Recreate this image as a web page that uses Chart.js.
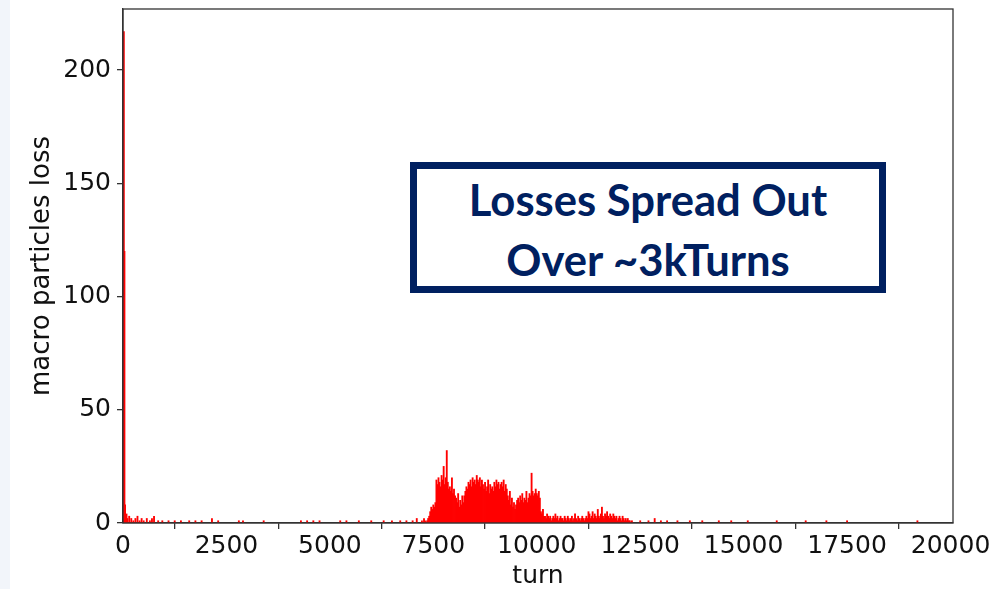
<!DOCTYPE html>
<html>
<head>
<meta charset="utf-8">
<script src="https://cdn.jsdelivr.net/npm/chart.js@4"></script>
<style>
  html, body { margin: 0; padding: 0; background: #fff; }
  .wrap { position: relative; width: 997px; height: 589px; overflow: hidden; }
  .strip { position: absolute; left: 0; top: 0; width: 10px; height: 589px; background: #f2f5fa; }
  .note {
    position: absolute; left: 410px; top: 162px; width: 476px; height: 131px;
    box-sizing: border-box; border: 7px solid #002060; background: #fff;
    color: #002060; font-family: Lato, "Open Sans", sans-serif; font-weight: 700;
    text-align: center; line-height: 60px; white-space: nowrap;
  }
</style>
</head>
<body>
<div class="wrap">
  <div class="strip"></div>
  <canvas id="lossChart" width="997" height="589"></canvas>
  <div class="note" id="note"><div>Losses Spread Out</div><div>Over ~3kTurns</div></div>
</div>
<script>
// losses right at injection
const spikeTurns = [20, 35];
const spikeLoss = [217, 120];

// scattered single losses before the main bump
const earlyTurns = [50, 65, 85, 105, 150, 200, 250, 300, 350, 400, 450, 500, 575, 650, 700, 750, 850, 950,
  1100, 1250, 1400, 1600, 1750, 1900, 2150, 2300, 2800, 2900, 3400, 4300, 4450, 4600, 4750, 5250, 5400,
  5700, 6000, 6300, 6500, 6700, 6850, 7000, 7100];
const earlyLoss = [8, 3, 4, 2, 3, 2, 1, 2, 3, 1, 2, 1, 2, 1, 2, 3, 1, 1,
  1, 1, 1, 1, 1, 1, 2, 1, 1, 1, 1, 1, 1, 1, 1, 1, 1,
  1, 1, 1, 1, 1, 1, 1, 2];

// main bump, 25 turn bins from turn 7200
const activeStart = 7200;
const activeStep = 25;
const activeLoss = [
  0, 1, 0, 2, 1, 0, 1, 2,
  3, 5, 7, 6,
  8, 7, 9,
  19, 17, 20,
  18, 16, 21, 19, 25, 17,
  20, 32, 18, 15,
  16, 14, 20, 13, 15, 12,
  11, 9, 13, 7, 10, 8, 12, 9,
  12, 14, 16, 15, 18, 17, 19, 16,
  20, 18, 19, 17, 21, 19, 18, 20, 16, 19,
  17, 15, 18, 14, 16, 19, 13, 17, 15, 16, 14, 18,
  16, 19, 17, 18, 15, 17,
  18, 16, 19, 14, 17, 15,
  12, 10, 14, 8, 11, 7, 9, 6,
  8, 10, 11, 9, 12, 10, 13, 9, 11, 10, 14, 9,
  11, 13, 12, 22, 14, 12, 13, 15,
  13, 12, 14, 11,
  5, 4, 6, 3,
  3, 2, 4, 3, 2, 3, 1, 2, 3, 2, 4, 2, 3, 1, 2, 3, 2, 2, 1, 3,
  2, 1, 3, 2, 1, 2, 3, 1, 2, 4, 2, 1, 3, 2, 1, 2, 3, 2, 1, 2,
  3, 2, 5, 4, 2, 3, 5, 2, 4, 3, 2, 6, 3, 2, 4, 7, 3, 2, 4, 3,
  5, 3, 2, 4, 3, 2, 4, 3, 2, 3, 1, 2,
  3, 2, 1, 3, 2, 1, 2, 1, 2, 1, 1, 0, 1, 0
];

// scattered losses after the bump
const lateTurns = [12500, 12700, 12850, 13000, 13150, 13400, 13700, 14000, 14400, 14700, 15100, 15800, 16500, 17000, 17500, 19200];
const lateLoss = [1, 1, 2, 1, 1, 1, 1, 1, 1, 1, 1, 1, 1, 1, 1, 1];

const xTicks = [0, 2500, 5000, 7500, 10000, 12500, 15000, 17500, 20000];
const yTicks = [0, 50, 100, 150, 200];

const points = [];
spikeTurns.forEach((t, i) => points.push({ x: t, y: spikeLoss[i] }));
earlyTurns.forEach((t, i) => points.push({ x: t, y: earlyLoss[i] }));
activeLoss.forEach((v, i) => points.push({ x: activeStart + i * activeStep, y: v }));
lateTurns.forEach((t, i) => points.push({ x: t, y: lateLoss[i] }));

const frame = {
  id: 'frame',
  afterDatasetsDraw(chart) {
    const { ctx, chartArea: a } = chart;
    ctx.save();
    ctx.strokeStyle = '#333';
    ctx.lineWidth = 1.3;
    ctx.strokeRect(a.left, a.top, a.right - a.left, a.bottom - a.top);
    ctx.restore();
  }
};

const tickFont = { family: 'DejaVu Sans', size: 25 };
const noPad = s => { s.paddingTop = 0; s.paddingBottom = 0; s.paddingLeft = 0; s.paddingRight = 0; };

new Chart(document.getElementById('lossChart'), {
  type: 'bar',
  data: {
    datasets: [{
      data: points,
      backgroundColor: '#ff0000',
      borderWidth: 0,
      barThickness: 1.2,
      grouped: false
    }]
  },
  options: {
    responsive: false,
    devicePixelRatio: 1,
    animation: false,
    layout: { padding: { top: 9, right: 44, left: 0, bottom: 0 } },
    plugins: { legend: { display: false }, tooltip: { enabled: false } },
    scales: {
      x: {
        type: 'linear',
        min: 0,
        max: 20060,
        offset: false,
        afterBuildTicks: s => { s.ticks = xTicks.map(v => ({ value: v })); },
        afterFit: s => { s.height = 66; noPad(s); },
        grid: { drawOnChartArea: false, drawTicks: true, tickLength: 6, color: '#333', lineWidth: 1.3 },
        border: { color: '#333', width: 1.3 },
        ticks: { maxRotation: 0, autoSkip: false, color: '#111', font: tickFont, padding: 2, callback: v => String(v) },
        title: { display: true, text: 'turn', color: '#111', font: { family: 'DejaVu Sans', size: 25, lineHeight: 1 }, padding: { top: 0, bottom: 0 } }
      },
      y: {
        min: 0,
        max: 227,
        afterBuildTicks: s => { s.ticks = yTicks.map(v => ({ value: v })); },
        afterFit: s => { s.width = 123; noPad(s); },
        grid: { drawOnChartArea: false, drawTicks: true, tickLength: 6, color: '#333', lineWidth: 1.3 },
        border: { color: '#333', width: 1.3 },
        ticks: { color: '#111', font: tickFont, padding: 6, callback: v => String(v) },
        title: { display: true, text: 'macro particles loss', color: '#111', font: { family: 'DejaVu Sans', size: 26, lineHeight: 1 }, padding: { top: 29, bottom: 0 } }
      }
    }
  },
  plugins: [frame]
});

// size the annotation text to the box
const note = document.getElementById('note');
const mctx = document.createElement('canvas').getContext('2d');
let fs = 40;
mctx.font = `700 ${fs}px Lato`;
fs = fs * 358 / mctx.measureText('Losses Spread Out').width;
note.style.fontSize = fs.toFixed(1) + 'px';
</script>
</body>
</html>
